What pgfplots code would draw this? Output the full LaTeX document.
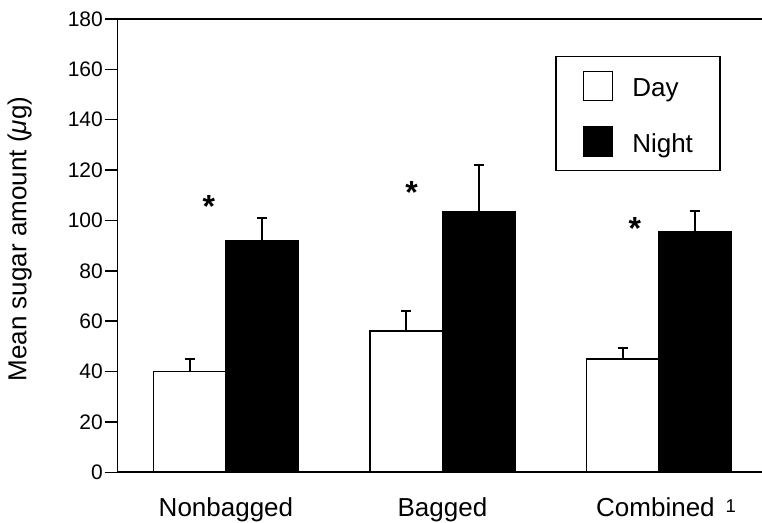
\documentclass[border=0pt]{standalone}
\usepackage{pgfplots}
\pgfplotsset{compat=1.18}
\usepackage{fontspec}
\setmainfont{Liberation Sans}
\begin{document}
\begin{tikzpicture}
\begin{axis}[
  name=ax,
  scale only axis,
  width=644.5pt, height=453.3pt,
  xmin=-0.501, xmax=2.476,
  ymin=0, ymax=180,
  axis x line*=box, axis y line*=left,
  axis line style={line width=1.8pt},
  ytick={0,20,...,180},
  xtick={0,1,2},
  xticklabels={Nonbagged, Bagged, {\hspace*{-7pt}Combined\rlap{\hspace{11pt}\raisebox{4pt}{\fontsize{18.5}{18.5}\selectfont 1}}}},
  tick align=outside,
  major tick length=12.5pt,
  xtick style={draw=none},
  ytick style={line width=1.5pt, black},
  /pgf/number format/assume math mode=true,
  yticklabel style={font=\fontsize{21}{21}\selectfont, inner sep=2pt},
  xticklabel style={font=\fontsize{26}{26}\selectfont, yshift=-9pt},
  ylabel={Mean sugar amount (\textit{μ}g)},
  ylabel style={font=\fontsize{26}{26}\selectfont, at={(axis description cs:-0.1517,0.5147)}, anchor=center},
  ybar, bar width=0.335,
  legend style={at={(axis cs:1.52,165.4)}, anchor=north west, draw=black, line width=1.5pt,
    font=\fontsize{26}{26}\selectfont, inner xsep=27pt, inner ysep=14pt, row sep=25pt,
    nodes={inner sep=0pt, yshift=6.5pt},
    /tikz/every odd column/.append style={column sep=19pt}},
  legend cell align=left,
  legend image code/.code={\draw[#1, line width=1.5pt] (0pt,-5.5pt) rectangle (29pt,23.5pt);},
]
\addplot+[bar shift=-0.1675, fill=white, draw=black, line width=1.6pt,
  error bars/.cd, y dir=plus, y explicit,
  error bar style={line width=2pt, black},
  error mark options={rotate=90, mark size=5pt, line width=2pt, black}]
  coordinates {(0,40) +- (0,5) (1,56.2) +- (0,8) (2,45) +- (0,4.2)};
\addplot+[bar shift=0.1675, fill=black, draw=black, line width=1.6pt,
  error bars/.cd, y dir=plus, y explicit,
  error bar style={line width=2pt, black},
  error mark options={rotate=90, mark size=5pt, line width=2pt, black}]
  coordinates {(0,91.9) +- (0,9) (1,103.4) +- (0,18.6) (2,95.5) +- (0,8.4)};
\legend{Day, Night}
\node[font=\fontsize{32}{32}\selectfont\bfseries, inner sep=0pt] at (axis cs:-0.079,105.5) {*};
\node[font=\fontsize{32}{32}\selectfont\bfseries, inner sep=0pt] at (axis cs:0.858,111.1) {*};
\node[font=\fontsize{32}{32}\selectfont\bfseries, inner sep=0pt] at (axis cs:1.889,96.9) {*};
\end{axis}
\pgfresetboundingbox
\path ([shift={(-117.5pt,-50.7pt)}]ax.south west) rectangle ([shift={(0pt,19pt)}]ax.north east);
\end{tikzpicture}
\end{document}
